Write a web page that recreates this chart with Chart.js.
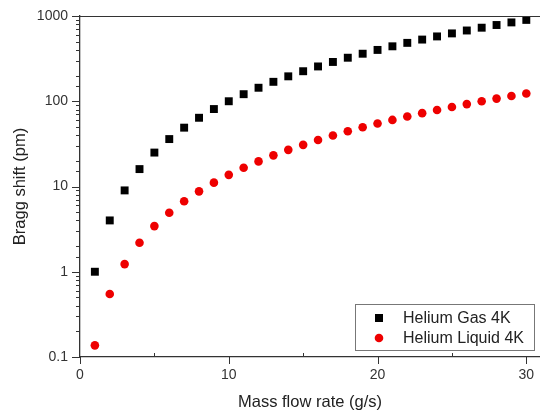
<!DOCTYPE html>
<html>
<head>
<meta charset="utf-8">
<title>Bragg shift</title>
<script src="https://cdn.jsdelivr.net/npm/chart.js@4.4.1/dist/chart.umd.min.js"></script>
<style>
    html, body { margin: 0; padding: 0; background: #fff; }
</style>
</head>
<body>
<canvas id="monGraphique" width="540" height="412"></canvas>
<script>
// --- DONNÉES ---
const debits = [1, 2, 3, 4, 5, 6, 7, 8, 9, 10, 11, 12, 13, 14, 15, 16, 17, 18, 19, 20, 21, 22, 23, 24, 25, 26, 27, 28, 29, 30];
const heliumGaz = [1, 4, 9, 16, 25, 36, 49, 64, 81, 100, 121, 144, 169, 196, 225, 256, 289, 324, 361, 400, 441, 484, 529, 576, 625, 676, 729, 784, 841, 900];
const heliumLiquide = [0.137, 0.548, 1.23, 2.19, 3.43, 4.93, 6.71, 8.77, 11.1, 13.7, 16.6, 19.7, 23.2, 26.9, 30.8, 35.1, 39.6, 44.4, 49.5, 54.8, 60.4, 66.3, 72.5, 78.9, 85.6, 92.6, 99.9, 107.4, 115.2, 123.3];
const graduationsX = [0, 5, 10, 15, 20, 25, 30];
const graduationsY = [0.1, 1, 10, 100, 1000];

const police = "'Liberation Sans', Arial, sans-serif";
const couleurAxe = '#333';

// Puissance de 10 ? (les valeurs du log ne sont pas toujours exactes)
function estDecade(v) {
    const l = Math.log10(v);
    return Math.abs(l - Math.round(l)) < 1e-9;
}

// Graduations dessinées à la main : grandes vers l'extérieur, petites plus courtes
const cadre = {
    id: 'cadre',
    afterDraw(chart) {
        const ctx = chart.ctx;
        const zone = chart.chartArea;
        const sx = chart.scales.x;
        const sy = chart.scales.y;
        ctx.save();
        ctx.strokeStyle = couleurAxe;
        ctx.lineWidth = 1;
        ctx.beginPath();
        // bord du haut
        ctx.moveTo(zone.left, zone.top + 0.5);
        ctx.lineTo(zone.right, zone.top + 0.5);
        // axe Y (log)
        sy.ticks.forEach(t => {
            const y = Math.round(sy.getPixelForValue(t.value)) + 0.5;
            const long = estDecade(t.value) ? 8 : 4;
            ctx.moveTo(zone.left - long, y);
            ctx.lineTo(zone.left, y);
        });
        // axe X
        graduationsX.forEach(v => {
            const x = Math.round(sx.getPixelForValue(v)) + 0.5;
            ctx.moveTo(x, zone.bottom);
            if (v % 10 === 0) {
                ctx.lineTo(x, zone.bottom + 7);
            } else {
                ctx.lineTo(x, zone.bottom - 4);
            }
        });
        ctx.stroke();

        // --- LÉGENDE (coin bas droit) ---
        const bx = 355, by = 304, bw = 179, bh = 46;
        ctx.fillStyle = '#fff';
        ctx.fillRect(bx, by, bw, bh);
        ctx.strokeStyle = '#777';
        ctx.strokeRect(bx + 0.5, by + 0.5, bw, bh);
        ctx.font = '16px ' + police;
        ctx.textBaseline = 'middle';
        chart.data.datasets.forEach((ds, i) => {
            const y = by + 14 + i * 20;
            ctx.fillStyle = ds.backgroundColor;
            if (ds.pointStyle === 'rect') {
                ctx.fillRect(bx + 20, y - 4, 8, 8);
            } else {
                ctx.beginPath();
                ctx.arc(bx + 24, y, 4.3, 0, Math.PI * 2);
                ctx.fill();
            }
            ctx.fillStyle = '#222';
            ctx.fillText(ds.label, bx + 48, y + 1);
        });
        ctx.restore();
    }
};

const ctx = document.getElementById('monGraphique').getContext('2d');
new Chart(ctx, {
    type: 'scatter',
    data: {
        datasets: [{
            label: 'Helium Gas 4K',
            data: debits.map((d, i) => ({ x: d, y: heliumGaz[i] })),
            pointStyle: 'rect',
            pointRadius: 5.6,
            backgroundColor: '#000',
            borderWidth: 0
        }, {
            label: 'Helium Liquid 4K',
            data: debits.map((d, i) => ({ x: d, y: heliumLiquide[i] })),
            pointStyle: 'circle',
            pointRadius: 4.3,
            backgroundColor: '#ee0000',
            borderWidth: 0
        }]
    },
    options: {
        responsive: false,
        animation: false,
        devicePixelRatio: 1,
        // pas de marge auto pour les points : le cadre va jusqu'au bord droit
        layout: { autoPadding: false, padding: { top: 16, right: 0, bottom: 0, left: 0 } },
        plugins: {
            legend: { display: false },
            tooltip: { enabled: false }
        },
        scales: {
            x: {
                type: 'linear',
                min: 0,
                max: 30.92,
                afterBuildTicks: s => { s.ticks = graduationsX.map(v => ({ value: v })); },
                // taille fixe, sans marge pour les étiquettes du bout
                afterFit: s => { s.height = 55; s.paddingLeft = 0; s.paddingRight = 0; },
                grid: { display: false, drawTicks: false },
                border: { display: true, color: couleurAxe, width: 1.3 },
                ticks: {
                    padding: 10,
                    color: '#333',
                    font: { family: police, size: 14 },
                    maxRotation: 0,
                    autoSkip: false,
                    callback: v => (v % 10 === 0 ? String(v) : '')
                },
                title: {
                    display: true,
                    text: 'Mass flow rate (g/s)',
                    color: '#222',
                    font: { family: police, size: 16.5 },
                    padding: { top: 0, bottom: 0 }
                }
            },
            y: {
                type: 'logarithmic',
                min: 0.1,
                max: 1000,
                afterFit: s => { s.width = 80; s.paddingTop = 0; s.paddingBottom = 0; },
                grid: { display: false, drawTicks: false },
                border: { display: true, color: couleurAxe, width: 1.3 },
                ticks: {
                    padding: 12,
                    color: '#333',
                    font: { family: police, size: 14 },
                    autoSkip: false,
                    callback: v => {
                        if (!estDecade(v)) return '';
                        const g = graduationsY.find(t => Math.abs(t - v) < 1e-9);
                        return g === undefined ? '' : String(g);
                    }
                },
                title: {
                    display: true,
                    text: 'Bragg shift (pm)',
                    color: '#222',
                    font: { family: police, size: 16.5 },
                    padding: { top: 11, bottom: 0 }
                }
            }
        }
    },
    plugins: [cadre]
});
</script>
</body>
</html>
